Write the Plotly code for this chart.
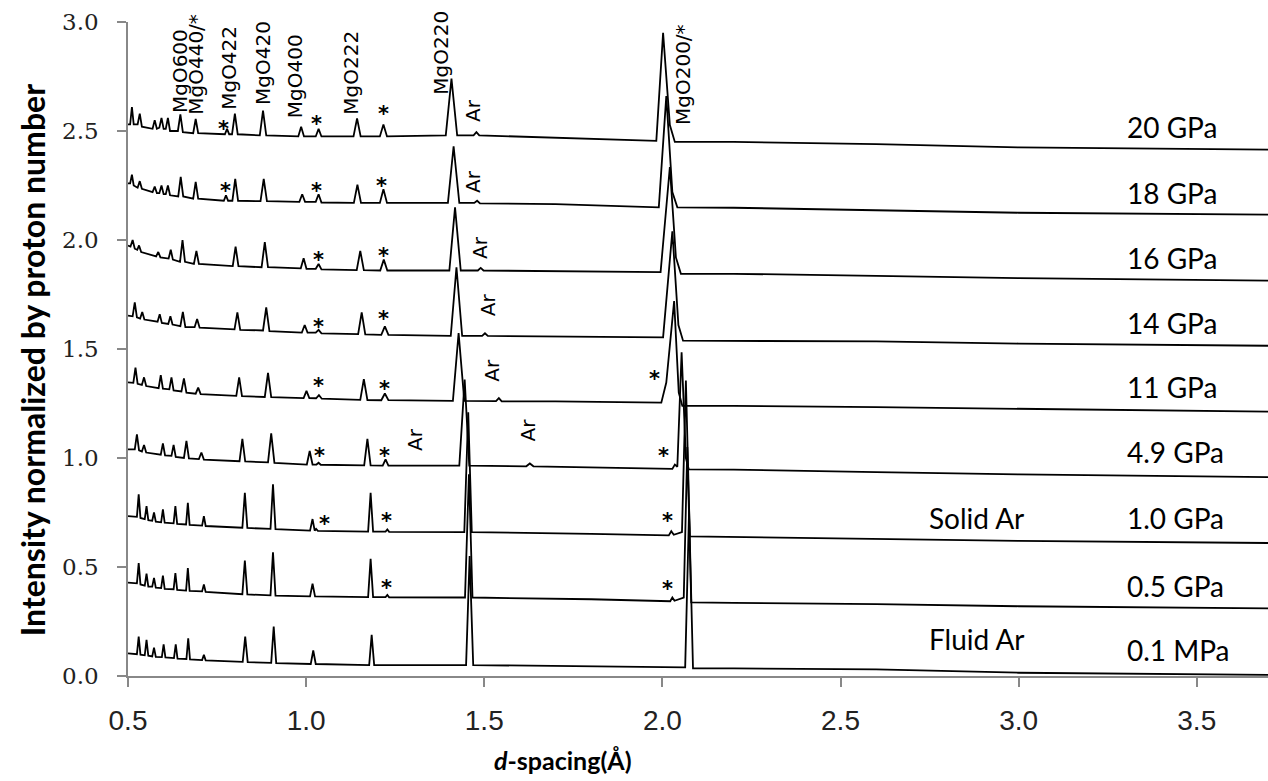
import plotly.graph_objects as go

# ---------------- data (d-spacing in Å, normalized intensity incl. stack offset) ----------------
P20 = [(0.500,2.53),(0.506,2.53),(0.511,2.61),(0.516,2.53),(0.527,2.53),(0.533,2.58),(0.539,2.52),(0.569,2.51),(0.575,2.55),(0.581,2.51),(0.588,2.515),(0.594,2.56),(0.600,2.51),(0.606,2.51),(0.612,2.56),(0.618,2.50),(0.640,2.50),(0.647,2.576),(0.654,2.495),(0.683,2.49),(0.690,2.555),(0.697,2.49),(0.772,2.485),(0.778,2.51),(0.784,2.485),(0.792,2.485),(0.800,2.58),(0.808,2.485),(0.870,2.48),(0.879,2.593),(0.888,2.48),(0.978,2.475),(0.986,2.52),(0.994,2.475),(1.027,2.475),(1.035,2.51),(1.043,2.475),(1.133,2.475),(1.143,2.558),(1.153,2.475),(1.207,2.475),(1.217,2.53),(1.227,2.475),(1.392,2.48),(1.408,2.74),(1.424,2.48),(1.470,2.48),(1.478,2.495),(1.486,2.48),(1.700,2.47),(1.983,2.455),(2.002,2.95),(2.021,2.527),(2.035,2.45),(2.200,2.45),(2.600,2.44),(3.000,2.425),(3.700,2.415)]
P18 = [(0.500,2.26),(0.506,2.26),(0.511,2.30),(0.516,2.25),(0.527,2.24),(0.533,2.27),(0.539,2.235),(0.569,2.22),(0.575,2.245),(0.581,2.215),(0.588,2.215),(0.594,2.25),(0.600,2.21),(0.606,2.21),(0.612,2.25),(0.618,2.205),(0.641,2.20),(0.648,2.29),(0.655,2.20),(0.683,2.19),(0.690,2.267),(0.697,2.19),(0.769,2.18),(0.775,2.205),(0.781,2.18),(0.793,2.18),(0.801,2.28),(0.809,2.18),(0.872,2.178),(0.881,2.28),(0.890,2.178),(0.981,2.175),(0.989,2.21),(0.997,2.175),(1.027,2.175),(1.035,2.21),(1.043,2.172),(1.134,2.17),(1.144,2.254),(1.154,2.17),(1.207,2.17),(1.217,2.233),(1.227,2.17),(1.398,2.17),(1.414,2.43),(1.430,2.17),(1.472,2.17),(1.480,2.18),(1.488,2.168),(1.700,2.165),(1.990,2.15),(2.011,2.66),(2.028,2.22),(2.042,2.15),(2.200,2.148),(2.600,2.135),(3.000,2.125),(3.700,2.116)]
P16 = [(0.500,1.975),(0.507,1.97),(0.513,2.00),(0.519,1.96),(0.526,1.955),(0.531,1.975),(0.537,1.945),(0.579,1.925),(0.585,1.945),(0.591,1.92),(0.614,1.915),(0.620,1.955),(0.626,1.91),(0.646,1.90),(0.653,2.00),(0.660,1.90),(0.685,1.89),(0.692,1.95),(0.699,1.89),(0.794,1.88),(0.802,1.97),(0.810,1.88),(0.875,1.875),(0.884,1.99),(0.893,1.875),(0.985,1.87),(0.993,1.916),(1.001,1.868),(1.027,1.868),(1.035,1.89),(1.043,1.865),(1.142,1.862),(1.152,1.95),(1.162,1.862),(1.208,1.86),(1.218,1.91),(1.228,1.86),(1.402,1.86),(1.418,2.15),(1.434,1.86),(1.482,1.86),(1.490,1.872),(1.498,1.86),(1.700,1.858),(1.995,1.853),(2.021,2.335),(2.038,1.92),(2.052,1.845),(2.200,1.845),(2.600,1.835),(3.000,1.825),(3.700,1.814)]
P14 = [(0.500,1.653),(0.513,1.65),(0.519,1.714),(0.525,1.645),(0.534,1.64),(0.540,1.67),(0.546,1.635),(0.583,1.625),(0.589,1.66),(0.595,1.62),(0.613,1.615),(0.619,1.65),(0.625,1.612),(0.647,1.605),(0.654,1.67),(0.661,1.60),(0.687,1.60),(0.694,1.638),(0.701,1.598),(0.799,1.59),(0.807,1.668),(0.815,1.588),(0.879,1.585),(0.888,1.691),(0.897,1.582),(0.988,1.575),(0.996,1.61),(1.004,1.575),(1.027,1.575),(1.035,1.588),(1.043,1.572),(1.146,1.568),(1.156,1.668),(1.166,1.567),(1.211,1.565),(1.221,1.604),(1.231,1.565),(1.406,1.56),(1.422,1.875),(1.438,1.56),(1.494,1.56),(1.502,1.572),(1.510,1.56),(1.700,1.558),(2.002,1.553),(2.028,2.04),(2.045,1.61),(2.058,1.538),(2.200,1.538),(2.600,1.535),(3.000,1.525),(3.700,1.515)]
P11 = [(0.500,1.347),(0.515,1.345),(0.521,1.415),(0.527,1.34),(0.539,1.335),(0.545,1.37),(0.551,1.33),(0.586,1.32),(0.592,1.38),(0.598,1.318),(0.616,1.315),(0.622,1.37),(0.628,1.31),(0.650,1.305),(0.657,1.365),(0.664,1.30),(0.690,1.295),(0.697,1.323),(0.704,1.293),(0.804,1.285),(0.812,1.37),(0.820,1.284),(0.884,1.28),(0.893,1.39),(0.902,1.279),(0.993,1.275),(1.001,1.308),(1.009,1.275),(1.028,1.274),(1.036,1.288),(1.044,1.272),(1.152,1.267),(1.162,1.362),(1.172,1.266),(1.211,1.265),(1.221,1.296),(1.231,1.265),(1.412,1.262),(1.428,1.573),(1.444,1.262),(1.533,1.261),(1.541,1.275),(1.549,1.26),(1.700,1.26),(1.997,1.254),(2.011,1.346),(2.033,1.72),(2.046,1.30),(2.056,1.239),(2.200,1.239),(2.600,1.233),(3.000,1.225),(3.700,1.213)]
P49 = [(0.500,1.04),(0.519,1.04),(0.525,1.108),(0.531,1.035),(0.539,1.03),(0.545,1.06),(0.551,1.025),(0.592,1.015),(0.598,1.067),(0.604,1.012),(0.622,1.01),(0.628,1.06),(0.634,1.005),(0.657,1.0),(0.664,1.078),(0.671,0.998),(0.699,0.995),(0.706,1.025),(0.713,0.993),(0.813,0.985),(0.821,1.088),(0.829,0.984),(0.893,0.98),(0.902,1.113),(0.911,0.978),(1.002,0.97),(1.010,1.032),(1.018,0.97),(1.029,0.97),(1.035,0.978),(1.041,0.969),(1.163,0.966),(1.172,1.088),(1.181,0.966),(1.215,0.965),(1.223,0.994),(1.231,0.965),(1.430,0.965),(1.445,1.36),(1.458,0.965),(1.618,0.962),(1.628,0.975),(1.638,0.962),(1.900,0.955),(2.028,0.95),(2.035,0.97),(2.042,0.96),(2.054,1.485),(2.066,1.0),(2.074,0.948),(2.200,0.947),(2.600,0.935),(3.000,0.925),(3.700,0.912)]
P10 = [(0.500,0.733),(0.525,0.73),(0.530,0.833),(0.535,0.725),(0.547,0.72),(0.552,0.779),(0.557,0.715),(0.568,0.712),(0.573,0.75),(0.578,0.708),(0.593,0.705),(0.598,0.764),(0.603,0.703),(0.628,0.70),(0.633,0.779),(0.638,0.698),(0.663,0.695),(0.668,0.794),(0.673,0.693),(0.708,0.69),(0.713,0.733),(0.718,0.688),(0.821,0.68),(0.828,0.84),(0.835,0.679),(0.900,0.675),(0.907,0.879),(0.914,0.674),(1.011,0.667),(1.018,0.72),(1.024,0.667),(1.028,0.675),(1.033,0.666),(1.174,0.662),(1.181,0.84),(1.188,0.662),(1.223,0.662),(1.228,0.672),(1.233,0.661),(1.444,0.66),(1.455,1.21),(1.465,0.66),(1.800,0.652),(2.018,0.645),(2.025,0.664),(2.032,0.648),(2.055,0.66),(2.066,1.355),(2.077,0.64),(2.200,0.637),(2.600,0.63),(3.000,0.62),(3.700,0.61)]
P05 = [(0.500,0.428),(0.525,0.425),(0.530,0.518),(0.535,0.42),(0.547,0.415),(0.552,0.47),(0.557,0.41),(0.568,0.41),(0.573,0.45),(0.578,0.405),(0.593,0.403),(0.598,0.46),(0.603,0.40),(0.628,0.398),(0.633,0.472),(0.638,0.395),(0.663,0.392),(0.668,0.495),(0.673,0.39),(0.708,0.388),(0.713,0.42),(0.718,0.386),(0.821,0.375),(0.828,0.53),(0.835,0.374),(0.900,0.37),(0.907,0.567),(0.914,0.369),(1.011,0.365),(1.018,0.423),(1.025,0.365),(1.174,0.362),(1.181,0.537),(1.188,0.362),(1.223,0.362),(1.228,0.372),(1.233,0.361),(1.446,0.36),(1.457,0.925),(1.467,0.36),(1.800,0.352),(2.022,0.343),(2.028,0.36),(2.034,0.345),(2.060,0.36),(2.070,1.05),(2.081,0.338),(2.200,0.335),(2.600,0.33),(3.000,0.32),(3.700,0.31)]
P01 = [(0.500,0.104),(0.525,0.10),(0.530,0.181),(0.535,0.098),(0.547,0.095),(0.552,0.166),(0.557,0.093),(0.568,0.09),(0.573,0.13),(0.578,0.088),(0.595,0.087),(0.600,0.145),(0.605,0.085),(0.629,0.082),(0.634,0.145),(0.639,0.08),(0.664,0.078),(0.669,0.173),(0.674,0.076),(0.708,0.073),(0.713,0.097),(0.718,0.072),(0.822,0.065),(0.829,0.181),(0.836,0.064),(0.902,0.06),(0.909,0.227),(0.916,0.059),(1.013,0.055),(1.020,0.117),(1.027,0.055),(1.177,0.05),(1.184,0.189),(1.191,0.05),(1.449,0.05),(1.459,0.55),(1.469,0.05),(1.800,0.045),(2.064,0.04),(2.075,0.76),(2.086,0.035),(2.200,0.035),(2.600,0.03),(3.000,0.015),(3.700,0.005)]

PATTERNS = [P20, P18, P16, P14, P11, P49, P10, P05, P01]
PRESSURE_LABELS = ["20 GPa", "18 GPa", "16 GPa", "14 GPa", "11 GPa", "4.9 GPa", "1.0 GPa", "0.5 GPa", "0.1 MPa"]
PRESSURE_LABEL_Y = [2.518, 2.216, 1.917, 1.619, 1.326, 1.028, 0.725, 0.413, 0.119]

PEAK_LABELS = [("MgO600", 0.646, 2.775), ("MgO440/*", 0.690, 2.807), ("MgO422", 0.783, 2.789),
               ("MgO420", 0.879, 2.812), ("MgO400", 0.969, 2.752), ("MgO222", 1.125, 2.766),
               ("MgO220", 1.378, 2.858), ("MgO200/*", 2.058, 2.757),
               ("Ar", 1.468, 2.596), ("Ar", 1.469, 2.267), ("Ar", 1.488, 1.968), ("Ar", 1.511, 1.702),
               ("Ar", 1.521, 1.404), ("Ar", 1.306, 1.083), ("Ar", 1.624, 1.128)]
STAR_POS = [(0.767, 2.537), (1.030, 2.558), (1.216, 2.606),
            (0.775, 2.252), (1.030, 2.252), (1.212, 2.275),
            (1.034, 1.936), (1.217, 1.954),
            (1.034, 1.630), (1.217, 1.664),
            (1.034, 1.358), (1.221, 1.343), (1.979, 1.389),
            (1.037, 1.037), (1.221, 1.037), (2.003, 1.037),
            (1.052, 0.723), (1.226, 0.739), (2.015, 0.739),
            (1.226, 0.433), (2.015, 0.425)]
PHASE_LABELS = [("Solid Ar", 2.743, 0.725), ("Fluid Ar", 2.743, 0.170)]

X_TICKS = [0.5, 1.0, 1.5, 2.0, 2.5, 3.0, 3.5]
Y_TICKS = [0.0, 0.5, 1.0, 1.5, 2.0, 2.5, 3.0]

# ---------------- figure ----------------
fig = go.Figure()
for pts in PATTERNS:
    xs = [p[0] for p in pts]
    ys = [p[1] for p in pts]
    fig.add_trace(go.Scatter(x=xs, y=ys, mode="lines",
                             line=dict(color="black", width=1.8),
                             showlegend=False, hoverinfo="skip"))

ann = []
for txt, xd, yd in PEAK_LABELS:
    ann.append(dict(text=txt, x=xd, y=yd, xref="x", yref="y", showarrow=False, textangle=-90,
                    font=dict(family="DejaVu Sans", size=20, color="black"),
                    xanchor="center", yanchor="middle"))
for xd, yd in STAR_POS:
    ann.append(dict(text="<b>*</b>", x=xd, y=yd, xref="x", yref="y", showarrow=False, yshift=-6,
                    font=dict(family="DejaVu Sans", size=21, color="black"),
                    xanchor="center", yanchor="middle"))
for txt, yd in zip(PRESSURE_LABELS, PRESSURE_LABEL_Y):
    ann.append(dict(text=txt, x=3.299, y=yd, xref="x", yref="y", showarrow=False,
                    font=dict(family="Lato", size=28, color="black"),
                    xanchor="left", yanchor="middle"))
for txt, xd, yd in PHASE_LABELS:
    ann.append(dict(text=txt, x=xd, y=yd, xref="x", yref="y", showarrow=False,
                    font=dict(family="Lato", size=28, color="black"),
                    xanchor="left", yanchor="middle"))
ann.append(dict(text="<b>Intensity normalized by proton number</b>", x=-0.0842, y=0.483,
                xref="paper", yref="paper", showarrow=False, textangle=-90,
                font=dict(family="Lato", size=32, color="black"),
                xanchor="center", yanchor="middle"))
ann.append(dict(text="<b><i>d</i>-spacing(Å)</b>", x=0.3816, y=-0.128,
                xref="paper", yref="paper", showarrow=False,
                font=dict(family="Lato", size=25, color="black"),
                xanchor="center", yanchor="middle"))

fig.update_layout(
    width=1268, height=781,
    margin=dict(l=128, r=0, t=22, b=105),
    paper_bgcolor="white", plot_bgcolor="white",
    annotations=ann,
    xaxis=dict(range=[0.5, 3.7], tickvals=X_TICKS, ticktext=[f"{v:.1f}" for v in X_TICKS],
               ticks="outside", ticklen=9, tickwidth=1.5, tickcolor="#888888",
               showline=True, linecolor="#888888", linewidth=1.5,
               showgrid=False, zeroline=False, ticklabelstandoff=10,
               tickfont=dict(family="Liberation Sans Narrow, Arial Narrow, Liberation Sans", size=28, color="#222222")),
    yaxis=dict(range=[0, 3.0], tickvals=Y_TICKS, ticktext=[f"{v:.1f}" for v in Y_TICKS],
               ticks="outside", ticklen=9, tickwidth=1.5, tickcolor="#888888",
               showline=True, linecolor="#888888", linewidth=1.5,
               showgrid=False, zeroline=False, ticklabelstandoff=14,
               tickfont=dict(family="DejaVu Serif", size=23, color="#222222")),
)

fig.write_html("out.html")
